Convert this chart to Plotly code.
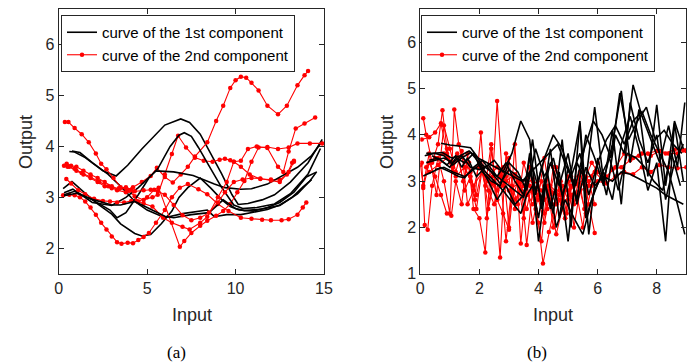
import plotly.graph_objects as go

# ---------------- data: panel (a) ----------------
a_k1_x = [0.6, 0.9, 1.5, 2.5, 3.25, 3.9, 4.7, 5.3, 6.0, 6.9, 7.4, 8.0, 8.5, 9.2, 9.8, 10.15, 10.7, 11.5, 12.2, 13.1, 14.1, 14.9]
a_k1_y = [3.90, 3.89, 3.78, 3.52, 3.42, 3.63, 3.95, 4.16, 4.42, 4.54, 4.47, 4.24, 3.93, 3.47, 3.05, 2.86, 2.88, 2.95, 3.05, 3.30, 3.68, 4.14]
a_k2_x = [0.75, 1.2, 1.9, 2.8, 3.7, 4.3, 5.0, 6.0, 7.0, 8.0, 8.4, 8.8, 9.5, 10.3, 11.0, 11.8, 12.5, 13.2, 13.8, 14.3]
a_k2_y = [3.91, 3.88, 3.68, 3.45, 3.15, 2.92, 2.75, 2.60, 2.68, 2.72, 2.75, 2.62, 2.66, 2.66, 2.70, 2.76, 2.85, 3.00, 3.20, 3.35]
a_k3_x = [0.25, 0.75, 1.5, 2.2, 3.0, 3.5, 4.3, 4.7, 5.2, 5.8, 6.4, 6.8, 7.3, 8.0, 8.6, 9.2, 9.7, 10.2, 11.0, 11.8, 12.5, 13.3, 14.0, 14.6]
a_k3_y = [3.17, 3.31, 3.08, 2.87, 2.67, 2.48, 2.29, 2.24, 2.27, 2.48, 2.73, 3.00, 3.19, 3.38, 3.18, 2.96, 2.82, 2.75, 2.73, 2.80, 2.90, 3.10, 3.40, 3.50]
a_k4_x = [0.3, 0.8, 1.9, 3.0, 3.8, 4.5, 5.1, 5.5, 6.5, 7.6, 8.8, 9.4, 10.3, 10.9, 11.8, 12.8, 13.5, 14.3, 14.9]
a_k4_y = [3.09, 3.16, 2.90, 2.84, 3.00, 3.19, 3.39, 3.52, 3.50, 3.43, 3.26, 3.19, 3.16, 3.17, 3.26, 3.46, 3.59, 3.82, 4.10]
a_k5_x = [0.3, 0.9, 1.9, 2.9, 3.3, 3.8, 4.5, 5.1, 5.6, 5.9, 6.3, 6.8, 7.1, 7.5, 7.9, 8.5, 9.2, 9.9, 10.4, 11.2, 12.2, 13.1, 14.1, 14.8]
a_k5_y = [3.05, 3.12, 2.95, 2.75, 2.60, 2.70, 3.05, 3.38, 3.56, 3.74, 4.00, 4.22, 4.27, 4.20, 3.98, 3.62, 3.20, 2.85, 2.78, 2.80, 2.87, 3.07, 3.46, 3.96]
a_k6_x = [0.3, 1.0, 2.0, 3.0, 3.5, 4.0, 4.3, 5.0, 6.0, 6.5, 7.5, 8.5, 9.3, 10.0, 10.5, 11.5, 12.5, 13.5, 14.2, 14.56]
a_k6_y = [3.03, 3.08, 2.95, 2.85, 2.85, 2.90, 2.92, 2.80, 2.63, 2.60, 2.66, 2.70, 2.95, 2.78, 2.74, 2.77, 2.84, 3.07, 3.32, 3.49]

a_r1_x = [0.45, 0.7, 1.0, 1.4, 1.8, 2.2, 2.6, 3.0, 3.4, 3.8, 4.2, 4.7, 5.2, 5.55, 6.0, 6.45, 6.9, 7.3, 7.7, 8.4, 8.9, 9.3, 9.7, 10.0, 10.3, 10.6, 10.9, 11.3, 11.8, 12.4, 12.9, 13.5, 13.9, 14.1]
a_r1_y = [3.66, 3.62, 3.60, 3.52, 3.45, 3.38, 3.30, 3.22, 3.16, 3.14, 3.20, 3.30, 3.42, 3.58, 3.40, 3.29, 3.45, 3.60, 3.80, 4.08, 4.50, 4.80, 5.15, 5.30, 5.37, 5.35, 5.25, 5.10, 4.80, 4.63, 4.80, 5.20, 5.40, 5.48]
a_r2_x = [0.35, 0.55, 0.9, 1.3, 1.7, 2.1, 2.4, 2.7, 3.1, 3.5, 3.9, 4.3, 4.8, 5.3, 5.6, 6.0, 6.4, 6.75, 7.2, 7.7, 8.2, 8.7, 9.1, 9.4, 9.7, 9.9, 10.3, 10.8, 11.4, 12.0, 12.5, 12.9, 13.2, 13.3]
a_r2_y = [4.48, 4.48, 4.36, 4.24, 4.08, 3.86, 3.66, 3.55, 3.38, 3.20, 3.13, 3.02, 2.95, 3.00, 3.05, 3.45, 3.85, 4.21, 3.98, 3.78, 3.72, 3.70, 3.74, 3.76, 3.73, 3.70, 3.60, 3.45, 3.36, 3.35, 3.34, 3.45, 3.68, 3.72]
a_r3_x = [0.25, 0.6, 0.9, 1.2, 1.5, 1.8, 2.1, 2.4, 2.7, 3.0, 3.3, 3.55, 3.9, 4.2, 4.5, 4.8, 5.1, 5.5, 6.0, 6.4, 6.85, 7.3, 7.9, 8.4, 9.0, 9.6, 10.3, 10.9, 11.5, 12.0, 12.6, 13.0, 13.5, 13.8, 14.0]
a_r3_y = [3.04, 3.05, 3.04, 3.00, 2.92, 2.80, 2.66, 2.50, 2.37, 2.23, 2.12, 2.09, 2.11, 2.10, 2.16, 2.22, 2.30, 2.50, 2.75, 3.00, 3.19, 3.26, 3.16, 3.06, 2.87, 2.73, 2.60, 2.58, 2.56, 2.55, 2.55, 2.57, 2.66, 2.80, 2.90]
a_r4_x = [0.43, 0.7, 1.1, 1.5, 2.0, 2.5, 2.9, 3.3, 3.7, 4.1, 4.5, 5.0, 5.4, 5.65, 6.85, 7.1, 7.5, 8.0, 8.4, 8.9, 9.3, 9.7, 10.1, 10.5, 10.9, 11.3, 11.8, 12.4, 13.0, 13.5, 14.2, 14.9]
a_r4_y = [3.36, 3.27, 3.14, 3.06, 2.97, 2.93, 2.92, 2.90, 2.90, 2.93, 2.92, 3.00, 3.15, 3.19, 2.03, 2.14, 2.30, 2.44, 2.54, 2.64, 2.73, 2.87, 3.10, 3.32, 3.70, 3.98, 3.99, 3.95, 3.98, 4.06, 4.06, 4.06]
a_r5_x = [0.3, 0.6, 1.0, 1.4, 1.8, 2.2, 2.6, 3.0, 3.4, 3.8, 4.1, 4.4, 4.8, 5.3, 5.9, 6.4, 7.0, 7.4, 8.0, 8.4, 9.0, 9.5, 9.9, 10.3, 10.7, 11.2, 11.8, 12.4, 12.7, 13.0, 13.4, 13.9, 14.5]
a_r5_y = [3.62, 3.60, 3.52, 3.45, 3.38, 3.30, 3.22, 3.18, 3.18, 3.20, 3.15, 2.93, 2.88, 2.82, 2.60, 2.50, 2.42, 2.37, 2.50, 2.62, 3.00, 3.30, 3.70, 3.72, 3.95, 4.00, 3.97, 3.60, 3.50, 3.90, 4.35, 4.45, 4.57]
a_r6_x = [0.5, 0.9, 1.3, 1.8, 2.3, 2.8, 3.3, 3.8, 4.3, 4.8, 5.2, 5.6, 6.0, 6.5, 7.0, 7.5, 8.0, 8.5, 9.0, 9.4, 9.9, 10.4, 10.9, 11.4, 12.0, 12.5, 13.0, 13.3]
a_r6_y = [3.60, 3.56, 3.48, 3.40, 3.30, 3.22, 3.14, 3.10, 3.12, 3.14, 3.15, 3.12, 3.05, 2.85, 2.65, 2.55, 2.60, 2.70, 2.90, 3.10, 3.30, 3.35, 3.38, 3.37, 3.33, 3.30, 3.50, 3.70]

# ---------------- data: panel (b) ----------------
b_k1_x = [0.7, 1.0, 1.3, 1.7, 1.9, 2.1, 2.4, 2.7, 3.0, 3.3, 3.5, 3.7, 3.9, 4.2, 4.5, 4.8, 5.1, 5.4, 5.7, 6.0, 6.3, 6.6, 6.9, 7.2, 7.5, 7.8, 8.1, 8.4, 8.7, 8.95]
b_k1_y = [3.82, 3.78, 3.76, 3.72, 3.55, 3.35, 3.20, 3.05, 2.90, 2.75, 2.65, 3.20, 2.80, 3.50, 4.00, 3.70, 3.10, 3.60, 2.70, 3.40, 3.90, 4.20, 3.80, 4.30, 4.50, 4.00, 3.60, 3.20, 2.50, 1.85]
b_k2_x = [0.1, 0.4, 0.7, 1.0, 1.3, 1.5, 1.8, 2.1, 2.4, 2.7, 3.0, 3.3, 3.5, 3.8, 4.1, 4.4, 4.7, 5.0, 5.3, 5.6, 5.9, 6.2, 6.5, 6.8, 7.1, 7.4, 7.7, 8.0, 8.3, 8.6, 8.9]
b_k2_y = [3.11, 3.20, 3.29, 3.20, 3.10, 3.07, 3.30, 3.45, 3.20, 2.95, 3.25, 3.10, 3.00, 3.30, 2.60, 3.40, 2.90, 3.60, 2.50, 3.30, 2.90, 3.10, 3.00, 3.20, 3.15, 3.05, 2.95, 2.85, 2.70, 2.60, 2.50]
b_k3_x = [0.2, 0.5, 0.8, 1.1, 1.4, 1.7, 2.0, 2.2, 2.5, 2.8, 3.1, 3.4, 3.6, 3.8, 4.0, 4.2, 4.5, 4.8, 5.1, 5.4, 5.7, 6.0, 6.3, 6.6, 6.9, 7.2, 7.5, 7.8, 8.1, 8.4, 8.7, 8.95]
b_k3_y = [3.60, 3.60, 3.55, 3.35, 3.50, 3.62, 3.40, 3.20, 3.00, 2.80, 2.55, 2.30, 2.70, 2.90, 2.20, 3.00, 2.30, 3.90, 2.00, 4.30, 1.85, 3.50, 2.70, 4.00, 3.60, 5.08, 4.40, 3.90, 3.40, 4.20, 3.30, 4.70]
b_k4_x = [0.3, 0.6, 0.9, 1.2, 1.4, 1.6, 1.9, 2.2, 2.5, 2.8, 3.1, 3.4, 3.7, 3.9, 4.1, 4.4, 4.7, 5.0, 5.3, 5.6, 5.9, 6.2, 6.5, 6.8, 7.1, 7.4, 7.7, 8.0, 8.3, 8.6, 8.9]
b_k4_y = [3.45, 3.50, 3.35, 3.55, 3.30, 3.50, 3.10, 3.30, 3.45, 3.20, 3.60, 4.30, 3.90, 2.70, 3.30, 2.40, 3.20, 1.70, 3.40, 3.00, 4.60, 3.00, 3.80, 4.95, 3.40, 4.55, 3.10, 4.65, 2.90, 4.30, 3.70]
b_k5_x = [0.4, 0.7, 1.0, 1.2, 1.5, 1.8, 2.1, 2.4, 2.7, 3.0, 3.3, 3.6, 3.9, 4.2, 4.5, 4.8, 5.1, 5.4, 5.6, 5.9, 6.2, 6.5, 6.8, 7.1, 7.4, 7.7, 8.0, 8.3, 8.6, 8.9]
b_k5_y = [3.55, 3.45, 3.30, 3.50, 3.40, 3.60, 3.20, 3.00, 2.90, 3.40, 3.20, 2.80, 3.70, 3.10, 3.50, 2.70, 3.20, 4.25, 2.20, 2.80, 3.20, 2.60, 3.80, 4.40, 3.70, 2.80, 3.40, 1.70, 4.25, 3.00]
b_k6_x = [0.2, 0.5, 0.8, 1.1, 1.4, 1.7, 2.0, 2.3, 2.6, 2.9, 3.2, 3.5, 3.8, 4.1, 4.4, 4.7, 5.0, 5.3, 5.6, 5.9, 6.2, 6.5, 6.8, 7.1, 7.4, 7.7, 8.0, 8.3, 8.6, 8.9]
b_k6_y = [3.40, 3.45, 3.50, 3.40, 3.55, 3.30, 3.25, 3.35, 3.10, 3.40, 3.00, 2.70, 3.90, 2.40, 3.70, 2.20, 3.30, 2.60, 4.00, 3.50, 2.90, 4.10, 2.50, 4.70, 3.90, 3.40, 4.00, 2.60, 3.40, 3.80]
b_k7_x = [0.5, 0.8, 1.1, 1.5, 1.7, 2.0, 2.3, 2.6, 2.9, 3.2, 3.5, 3.7, 4.0, 4.3, 4.6, 4.9, 5.2, 5.5, 5.8, 6.1, 6.4, 6.7, 7.0, 7.3, 7.6, 7.9, 8.2, 8.5, 8.8]
b_k7_y = [3.25, 3.30, 3.20, 3.10, 3.20, 3.35, 3.00, 2.60, 2.90, 2.50, 2.70, 3.60, 1.70, 3.20, 2.00, 2.60, 2.20, 1.85, 2.60, 3.10, 3.50, 2.80, 3.60, 3.50, 3.30, 3.00, 2.80, 3.60, 2.90]
b_k8_x = [0.15, 0.45, 0.75, 1.05, 1.35, 1.65, 1.95, 2.25, 2.55, 2.85, 3.15, 3.45, 3.75, 4.05, 4.35, 4.65, 4.95, 5.25, 5.55, 5.85, 6.15, 6.45, 6.75, 7.05, 7.35, 7.65, 7.95, 8.25, 8.55, 8.85]
b_k8_y = [3.55, 3.60, 3.62, 3.50, 3.55, 3.65, 3.50, 3.40, 3.30, 3.20, 3.10, 3.00, 3.20, 3.40, 3.60, 3.80, 3.30, 2.90, 3.70, 4.30, 4.00, 3.50, 4.90, 3.90, 4.30, 4.60, 3.90, 4.10, 3.80, 3.60]

b_r1_x = [0.05, 0.3, 0.5, 0.7, 0.9, 1.1, 1.3, 1.5, 1.7, 1.9, 2.1, 2.3, 2.5, 2.7, 2.9, 3.1, 3.3, 3.5, 3.7, 3.9, 4.1, 4.3, 4.5, 4.7, 4.9, 5.1, 5.3, 5.5, 5.7, 5.9]
b_r1_y = [3.90, 3.95, 4.05, 4.25, 3.60, 3.30, 3.50, 2.80, 3.10, 2.70, 3.30, 2.40, 3.00, 1.35, 3.60, 2.60, 3.00, 2.20, 3.30, 2.60, 3.00, 2.40, 3.30, 2.80, 2.20, 3.10, 2.60, 3.20, 2.50, 1.88]
b_r2_x = [0.1, 0.2, 0.4, 0.6, 0.75, 0.9, 1.1, 1.25, 1.45, 1.65, 1.85, 2.05, 2.25, 2.45, 2.6, 2.8, 3.0, 3.2, 3.4, 3.6, 3.8, 4.0, 4.15, 4.35, 4.55, 4.75, 4.95, 5.15, 5.35, 5.55]
b_r2_y = [4.36, 4.00, 3.40, 3.80, 4.53, 3.70, 3.20, 3.60, 3.00, 3.40, 2.60, 4.05, 2.20, 3.10, 4.73, 2.90, 3.50, 2.40, 3.00, 1.62, 2.80, 2.10, 1.22, 1.90, 2.50, 3.00, 2.30, 2.70, 3.10, 2.40]
b_r3_x = [0.05, 0.15, 0.25, 0.4, 0.6, 0.8, 1.0, 1.15, 1.3, 1.5, 1.7, 1.9, 2.1, 2.3, 2.5, 2.7, 2.9, 3.1, 3.3, 3.5, 3.7, 3.9, 4.1, 4.3, 4.5, 4.7, 4.9, 5.1, 5.3, 5.5, 5.7, 5.9]
b_r3_y = [3.40, 2.05, 1.95, 2.90, 3.50, 3.00, 2.30, 4.55, 3.80, 3.30, 3.00, 2.40, 3.30, 2.80, 2.50, 3.20, 1.70, 2.90, 2.50, 3.40, 2.90, 2.40, 1.70, 2.90, 2.00, 2.60, 2.20, 2.90, 2.70, 2.00, 3.00, 2.50]
b_r4_x = [0.1, 0.3, 0.5, 0.7, 0.9, 1.05, 1.2, 1.4, 1.6, 1.8, 2.0, 2.2, 2.4, 2.6, 2.8, 3.0, 3.2, 3.4, 3.6, 3.8, 4.0, 4.2, 4.4, 4.6, 4.8, 5.0, 5.2, 5.4, 5.6, 5.8]
b_r4_y = [2.85, 3.40, 3.10, 2.70, 2.30, 2.25, 3.00, 2.50, 3.60, 2.40, 2.20, 1.46, 3.70, 2.60, 3.30, 2.00, 3.80, 1.65, 3.00, 2.10, 2.70, 3.50, 2.60, 1.85, 2.40, 3.10, 2.00, 2.80, 2.30, 2.90]
b_r5_x = [0.2, 0.5, 0.8, 1.1, 1.4, 1.7, 2.0, 2.3, 2.6, 2.9, 3.2, 3.5, 3.8, 4.1, 4.4, 4.7, 5.0, 5.3, 5.6, 5.9, 6.2, 6.5, 6.8, 7.1, 7.4, 7.7, 8.0, 8.3, 8.6, 8.9, 9.0]
b_r5_y = [3.30, 3.50, 3.60, 3.40, 3.55, 3.20, 3.40, 3.10, 3.30, 3.00, 3.15, 2.90, 3.05, 2.80, 2.90, 2.70, 2.80, 2.95, 3.05, 3.20, 3.00, 3.25, 3.30, 3.45, 3.55, 3.60, 3.65, 3.60, 3.68, 3.67, 3.67]
b_r6_x = [0.3, 0.6, 0.9, 1.2, 1.5, 1.8, 2.1, 2.4, 2.7, 3.0, 3.3, 3.6, 3.9, 4.2, 4.5, 4.8, 5.1, 5.4, 5.7, 6.0, 6.3, 6.6, 6.9, 7.2, 7.5, 7.8, 8.1, 8.4, 8.7, 9.0]
b_r6_y = [3.20, 3.35, 3.50, 3.10, 3.30, 2.90, 3.20, 2.95, 3.10, 2.80, 2.95, 2.70, 2.85, 2.60, 2.75, 2.50, 2.70, 2.80, 2.90, 3.00, 2.95, 3.10, 3.20, 3.15, 3.30, 3.20, 3.35, 3.30, 3.28, 3.30]
b_r7_x = [2.0, 2.3, 2.6, 2.9, 3.2, 3.5, 3.8, 4.0, 4.2, 4.4, 4.6, 4.8, 5.0, 5.2, 5.4, 5.6, 5.8, 6.0, 6.3, 6.6, 6.9, 7.2, 7.5, 7.8, 8.1, 8.4, 8.7, 9.0]
b_r7_y = [3.30, 3.00, 2.80, 3.10, 2.60, 2.90, 2.50, 2.70, 2.30, 2.80, 2.50, 2.90, 2.60, 3.00, 2.80, 3.10, 3.40, 3.20, 3.10, 3.30, 3.60, 3.50, 3.60, 3.55, 3.65, 3.60, 3.60, 3.65]
b_r8_x = [0.0, 0.1, 0.3, 0.55, 0.8, 1.0, 1.2, 1.4, 1.6, 1.8, 2.0, 2.2, 2.4, 2.6, 2.8, 3.0, 3.2, 3.4, 3.6, 3.8, 4.0, 4.2, 4.4, 4.6, 4.8, 5.0, 5.2, 5.4, 5.6, 5.8, 6.0]
b_r8_y = [3.35, 2.90, 3.60, 2.70, 4.20, 3.70, 3.20, 3.65, 2.50, 2.80, 3.40, 2.90, 3.80, 2.60, 2.30, 1.95, 3.10, 2.80, 2.40, 3.00, 2.60, 2.10, 2.80, 3.30, 2.60, 3.00, 2.50, 3.20, 2.80, 3.10, 3.40]

name_1st = "curve of the 1st component"
name_2nd = "curve of the 2nd component"
a_x_ticks = [0, 5, 10, 15]
a_y_ticks = [2, 3, 4, 5, 6]
b_x_ticks = [0, 2, 4, 6, 8]
b_y_ticks = [1, 2, 3, 4, 5, 6]

# ---------------- figure ----------------
W, H = 697, 362
BLACK = "#000000"
RED = "#ff0000"
AX = "#262626"
FONT = "Arial, Liberation Sans, Helvetica, sans-serif"

fig = go.Figure()

def add_black(x, y, xa, ya, leg, show):
    fig.add_trace(go.Scatter(x=x, y=y, mode="lines", xaxis=xa, yaxis=ya,
                             line=dict(color=BLACK, width=1.6), name=name_1st,
                             legend=leg, showlegend=show, hoverinfo="skip"))

def add_red(x, y, xa, ya, leg, show):
    fig.add_trace(go.Scatter(x=x, y=y, mode="lines+markers", xaxis=xa, yaxis=ya,
                             line=dict(color=RED, width=1.1),
                             marker=dict(color=RED, size=4.5, line=dict(width=0)),
                             name=name_2nd, legend=leg, showlegend=show, hoverinfo="skip"))

a_black = [(a_k1_x, a_k1_y), (a_k2_x, a_k2_y), (a_k3_x, a_k3_y), (a_k4_x, a_k4_y), (a_k5_x, a_k5_y), (a_k6_x, a_k6_y)]
a_red = [(a_r1_x, a_r1_y), (a_r2_x, a_r2_y), (a_r3_x, a_r3_y), (a_r4_x, a_r4_y), (a_r5_x, a_r5_y), (a_r6_x, a_r6_y)]
for i in range(max(len(a_black), len(a_red))):
    if i < len(a_black):
        add_black(*a_black[i], "x", "y", "legend", i == 0)
    if i < len(a_red):
        add_red(*a_red[i], "x", "y", "legend", i == 0)

b_black = [(b_k1_x, b_k1_y), (b_k2_x, b_k2_y), (b_k3_x, b_k3_y), (b_k4_x, b_k4_y),
           (b_k5_x, b_k5_y), (b_k6_x, b_k6_y), (b_k7_x, b_k7_y), (b_k8_x, b_k8_y)]
b_red = [(b_r1_x, b_r1_y), (b_r2_x, b_r2_y), (b_r3_x, b_r3_y), (b_r4_x, b_r4_y),
         (b_r5_x, b_r5_y), (b_r6_x, b_r6_y), (b_r7_x, b_r7_y), (b_r8_x, b_r8_y)]
for i, s in enumerate(b_red):
    add_red(*s, "x2", "y2", "legend2", i == 0)
for i, s in enumerate(b_black):
    add_black(*s, "x2", "y2", "legend2", i == 0)

def px_x(p): return p / W
def px_y(p): return 1 - p / H

axis_common = dict(showline=True, linecolor=AX, linewidth=1, mirror="ticks", ticks="inside",
                   ticklen=5, tickcolor=AX, tickwidth=1, showgrid=False, zeroline=False,
                   tickfont=dict(family=FONT, size=16, color=AX), automargin=False)

leg_common = dict(xanchor="left", yanchor="top", bgcolor="white", bordercolor=AX, borderwidth=1,
                  font=dict(family=FONT, size=15, color="#000000"), itemwidth=30, tracegroupgap=0)

ydom = [px_y(265.7), px_y(1.0)]
fig.update_layout(
    width=W, height=H, margin=dict(l=0, r=0, t=0, b=0),
    paper_bgcolor="white", plot_bgcolor="white",
    xaxis=dict(domain=[px_x(50.7), px_x(316.0)], range=[0, 15], tickvals=a_x_ticks, anchor="y", **axis_common),
    yaxis=dict(domain=ydom, range=[1.5, 6.7], tickvals=a_y_ticks, anchor="x", **axis_common),
    xaxis2=dict(domain=[px_x(412.3), px_x(678.3)], range=[0, 9], tickvals=b_x_ticks, anchor="y2", **axis_common),
    yaxis2=dict(domain=ydom, range=[1, 6.72], tickvals=b_y_ticks, anchor="x2", **axis_common),
    legend=dict(x=px_x(53.0), y=px_y(7.0), **leg_common),
    legend2=dict(x=px_x(413.0), y=px_y(7.0), traceorder="reversed", **leg_common),
    showlegend=True,
)

annos = [
    ("Input", 184.0, 307.0, 0, FONT, 18, AX),
    ("Input", 545.3, 307.0, 0, FONT, 18, AX),
    ("Output", 18.0, 134.0, -90, FONT, 18, AX),
    ("Output", 379.0, 134.0, -90, FONT, 18, AX),
    ("(a)", 168.5, 344.0, 0, "Times New Roman, Liberation Serif, serif", 17, "#000000"),
    ("(b)", 529.0, 344.0, 0, "Times New Roman, Liberation Serif, serif", 17, "#000000"),
]
for text, x, y, ang, fam, sz, col in annos:
    fig.add_annotation(text=text, x=px_x(x), y=px_y(y), xref="paper", yref="paper",
                       xanchor="center", yanchor="middle", showarrow=False, textangle=ang,
                       font=dict(family=fam, size=sz, color=col))

fig.write_html("out.html")
